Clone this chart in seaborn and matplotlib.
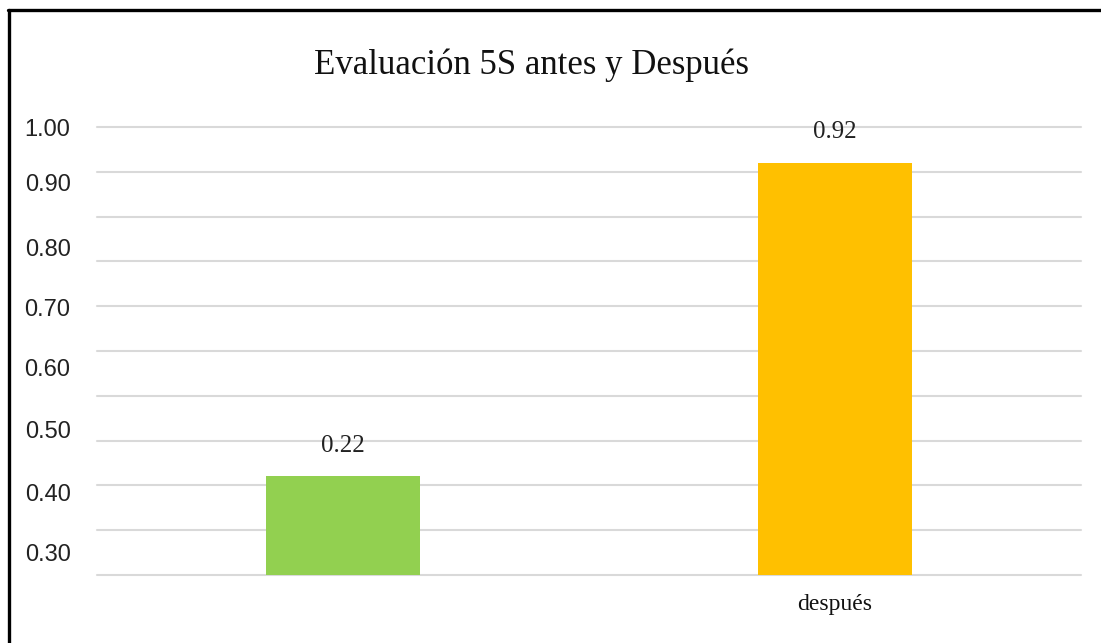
import matplotlib
matplotlib.use("Agg")
import matplotlib.pyplot as plt
import seaborn as sns
import pandas as pd
import numpy as np
from matplotlib.lines import Line2D

# data
categories = ['antes', 'después']
xtick_labels = ['', 'después']
values = [0.22, 0.92]
bar_colors = ['#92D050', '#FFC000']
ytick_labels = ['1.00', '0.90', '0.80', '0.70', '0.60', '0.50', '0.40', '0.30']
title = 'Evaluación 5S antes y Después'

df = pd.DataFrame({'cat': categories, 'val': values})

sns.set_style('white')
plt.rcParams['font.family'] = ['Liberation Serif', 'DejaVu Serif']

fig = plt.figure(figsize=(11.01, 6.43), dpi=100)
ax = fig.add_axes([97 / 1101, 1 - 575 / 643, 984 / 1101, 448 / 643])

sns.barplot(data=df, x='cat', y='val', hue='cat', palette=bar_colors,
            width=0.315, saturation=1, legend=False, linewidth=0, ax=ax)

ax.set_ylim(0, 1)
ax.set_xlim(-0.5, 1.5)

# gridlines every 0.1 (minor ticks), labels sit at their own spots (major ticks)
ax.yaxis.remove_overlapping_locs = False
ax.set_yticks(np.arange(0, 1.01, 0.1), minor=True)
label_pos = [1.0, 0.877, 0.732, 0.598, 0.464, 0.324, 0.185, 0.051]
ax.set_yticks(label_pos)
ax.set_yticklabels(ytick_labels, family=['Liberation Sans Narrow', 'Liberation Sans'],
                   fontsize=17, color='#222222')
ax.grid(False)
ax.grid(True, which='minor', axis='y', color='#d9d9d9', linewidth=1.5, clip_on=False)
ax.set_axisbelow(True)
ax.tick_params(axis='y', which='both', length=0, pad=19)

ax.set_xticks(range(len(categories)))
ax.set_xticklabels(xtick_labels, fontsize=17, color='#111111')
ax.tick_params(axis='x', length=0, pad=14)
ax.set_xlabel('')
ax.set_ylabel('')
for s in ax.spines.values():
    s.set_visible(False)

for cont in ax.containers:
    ax.bar_label(cont, fmt='%.2f', padding=14, fontsize=18, color='#222222')

fig.text(531 / 1101, 1 - 65 / 643, title, ha='center', va='center',
         fontsize=25, color='#111111')

# frame lines on the left and top edge
fig.add_artist(Line2D([8.5 / 1101, 8.5 / 1101], [0, 1 - 9.5 / 643],
                      transform=fig.transFigure, color='black', linewidth=2.4))
fig.add_artist(Line2D([7.5 / 1101, 1], [1 - 9.5 / 643, 1 - 9.5 / 643],
                      transform=fig.transFigure, color='black', linewidth=2.4))

fig.savefig('out.png', dpi=100)
